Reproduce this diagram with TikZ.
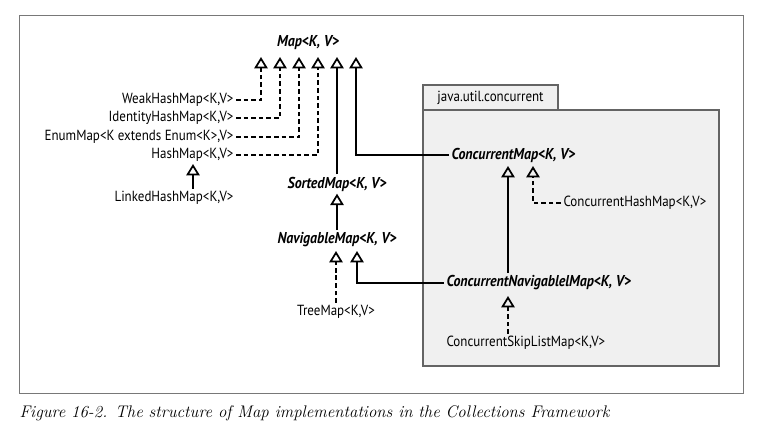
\documentclass[tikz,border=0pt]{standalone}
\usepackage{fontspec}
\newfontfamily\diagfont[FakeStretch=0.885]{PT Sans}
\usetikzlibrary{arrows.meta}

\tikzset{every picture/.style={line width=0.75pt}}
\tikzset{
  cls/.style={inner sep=1.5pt, font=\diagfont\fontsize{11}{13}\selectfont},
  iface/.style={cls, font=\diagfont\fontsize{11.8}{14}\selectfont\bfseries\itshape},
  gen/.style={line width=1.25pt, -{Triangle[open, length=8.5pt, width=10pt, line width=1.3pt]}},
  impl/.style={gen, dash pattern={on 3.5pt off 2.2pt}}
}

\begin{document}
\begin{tikzpicture}[x=0.75pt,y=0.75pt,yscale=-1,xscale=1]
\useasboundingbox (0,0) rectangle (757,433);

%Frame
\draw [color={rgb, 255:red, 120; green, 120; blue, 120 }] (19,15) rectangle (743,393) ;
%Package java.util.concurrent
\draw [color={rgb, 255:red, 100; green, 100; blue, 100 }, fill={rgb, 255:red, 240; green, 240; blue, 240 }, line width=1.1pt] (423,110) rectangle (719,366) ;
\draw [color={rgb, 255:red, 100; green, 100; blue, 100 }, fill={rgb, 255:red, 240; green, 240; blue, 240 }, line width=1.1pt] (423,85) rectangle (558,110) ;
\node [cls] (pkg) at (490.5,98) {java.util.concurrent};

% Text Nodes
\node [iface] (map) at (308,43) {Map<K, V>};
\node [cls, anchor=east] (weak) at (236,100) {WeakHashMap<K,V>};
\node [cls, anchor=east] (ident) at (236,118) {IdentityHashMap<K,V>};
\node [cls, anchor=east] (enum) at (236,137) {EnumMap<K extends Enum<K>,V>};
\node [cls, anchor=east] (hash) at (236,155) {HashMap<K,V>};
\node [cls, anchor=east] (linked) at (236,198) {LinkedHashMap<K,V>};
\node [iface] (smap) at (337,184) {SortedMap<K, V>};
\node [iface] (nmap) at (337,240) {NavigableMap<K, V>};
\node [cls] (tree) at (336,312) {TreeMap<K,V>};
\node [iface, anchor=west] (cmap) at (449,155) {ConcurrentMap<K, V>};
\node [cls, anchor=west] (chash) at (561,203) {ConcurrentHashMap<K,V>};
\node [iface, anchor=west] (cnav) at (444,283) {ConcurrentNavigablelMap<K, V>};
\node [cls, anchor=west] (skip) at (444,343) {ConcurrentSkipListMap<K,V>};

% Arrow tips
\coordinate (ta) at (261,57);
\coordinate (tb) at (280,57);
\coordinate (tc) at (299,57);
\coordinate (td) at (318,57);
\coordinate (te) at (337,57);
\coordinate (tf) at (356,57);
\coordinate (th) at (193,164);
\coordinate (tn1) at (336,251);
\coordinate (tn2) at (357,251);
\coordinate (tc1) at (508,166);
\coordinate (tc2) at (533,166);
\coordinate (tc3) at (508,296);

%Connectors
\draw [impl] (weak.east) -| (ta) ;
\draw [impl] (ident.east) -| (tb) ;
\draw [impl] (enum.east) -| (tc) ;
\draw [impl] (hash.east) -| (td) ;
\draw [gen] (smap.north) -- (te) ;
\draw [gen] (cmap.west) -| (tf) ;
\draw [gen] (linked.north -| th) -- (th) ;
\draw [gen] (nmap.north) -- (smap.south) ;
\draw [impl] (tree.north) -- (tn1) ;
\draw [gen] (cnav.west) -| (tn2) ;
\draw [gen] (cnav.north -| tc1) -- (tc1) ;
\draw [impl] (chash.west) -| (tc2) ;
\draw [impl] (skip.north -| tc3) -- (tc3) ;

% Caption
\node [anchor=west, inner sep=0pt, font=\fontsize{12.6}{15}\selectfont\itshape] (caption) at (19,413) {Figure 16-2. The structure of Map implementations in the Collections Framework};

\end{tikzpicture}
\end{document}
